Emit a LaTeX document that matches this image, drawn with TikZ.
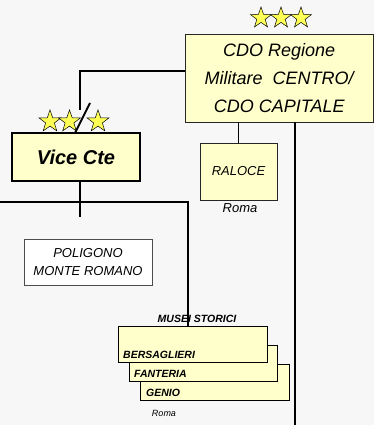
\documentclass[tikz,border=0pt]{standalone}
\usepackage{fontspec}
\setmainfont{Liberation Sans}
\usetikzlibrary{shapes.geometric}
\definecolor{bg}{RGB}{247,247,247}
\definecolor{boxy}{RGB}{255,255,204}
\definecolor{stary}{RGB}{255,255,85}
\tikzset{
  box/.style={draw=black!85, fill=boxy, line width=0.8pt, inner sep=0pt, align=center},
  starnode/.style={star, star points=5, star point ratio=2.5, draw=black, fill=stary, line width=0.5pt, minimum size=22pt, inner sep=0pt},
  link/.style={line width=2pt, black},
  thinlink/.style={line width=1.4pt, black},
  lbl/.style={inner sep=0pt, font=\bfseries\itshape\fontsize{10.5}{12}\selectfont},
}
\begin{document}
\begin{tikzpicture}[x=1pt,y=-1pt]
\fill[bg] (0,0) rectangle (374,425);
\useasboundingbox (0,0) rectangle (374,425);

% CDO
\node[box, minimum width=188.5pt, minimum height=88pt, font=\itshape\fontsize{18}{28}\selectfont] (cdo) at (279.25,78) {CDO Regione\\Militare\ \ CENTRO/\\CDO CAPITALE};
\node[starnode] (cs1) at (261,18) {};
\node[starnode] (cs2) at (281,18) {};
\node[starnode] (cs3) at (301,18) {};

% Vice Cte
\node[box, draw=black, line width=2pt, minimum width=128pt, minimum height=48pt, font=\bfseries\itshape\fontsize{20}{24}\selectfont] (vice) at (76,157) {Vice Cte};
\node[starnode, minimum size=23pt] (vs1) at (50,121.5) {};
\node[starnode, minimum size=23pt] (vs2) at (69.5,121.5) {};
\node[starnode, minimum size=23pt] (vs3) at (98,121.5) {};

% RALOCE
\node[box, minimum width=77pt, minimum height=57pt, font=\itshape\fontsize{13}{15}\selectfont] (ralo) at (238.5,171.5) {RALOCE};
\node[inner sep=0pt, font=\itshape\fontsize{13}{15}\selectfont] (roma1) at (240,208) {Roma};

% POLIGONO
\node[box, fill=white, draw=black!70, minimum width=128pt, minimum height=46pt, font=\itshape\fontsize{13}{18}\selectfont] (poli) at (88,262) {POLIGONO\\MONTE ROMANO};

% Musei
\node[box, line width=1pt, draw=black, minimum width=149pt, minimum height=36pt] (b3) at (214.5,382) {};
\node[box, line width=1pt, draw=black, minimum width=148pt, minimum height=36pt] (b2) at (203,363) {};
\node[box, line width=1pt, draw=black, minimum width=149pt, minimum height=36pt] (b1) at (192.5,344) {};
\node[lbl, anchor=west] (lb1) at (123,355) {BERSAGLIERI};
\node[lbl, anchor=west] (lb2) at (134,374) {FANTERIA};
\node[lbl, anchor=west] (lb3) at (146,393) {GENIO};
\node[lbl] (musei) at (197,319) {MUSEI STORICI};
\node[inner sep=0pt, font=\itshape\fontsize{9}{11}\selectfont] (roma2) at (164,413) {Roma};

% connectors
\coordinate (c1) at (185,71);
\coordinate (brk) at (80,110);
\coordinate (slA) at (90,103);
\coordinate (slB) at (75,133);
\draw[link] (c1) -| (brk);
\draw[link] (slA) -- (slB);

\draw[thinlink] (ralo.north |- cdo.south) -- (ralo.north);
\coordinate (cdoR) at (295,122);
\coordinate (bottomR) at (295,426);
\draw[link] (cdoR) -- (bottomR);

\coordinate (hl) at (-1,202);
\coordinate (hm) at (188,202);
\coordinate (vd) at (80,217);
\draw[link] (vice.south -| vd) -- (vd);
\draw[link] (hl) -- (hm) -- (hm |- b1.north);
\end{tikzpicture}
\end{document}
